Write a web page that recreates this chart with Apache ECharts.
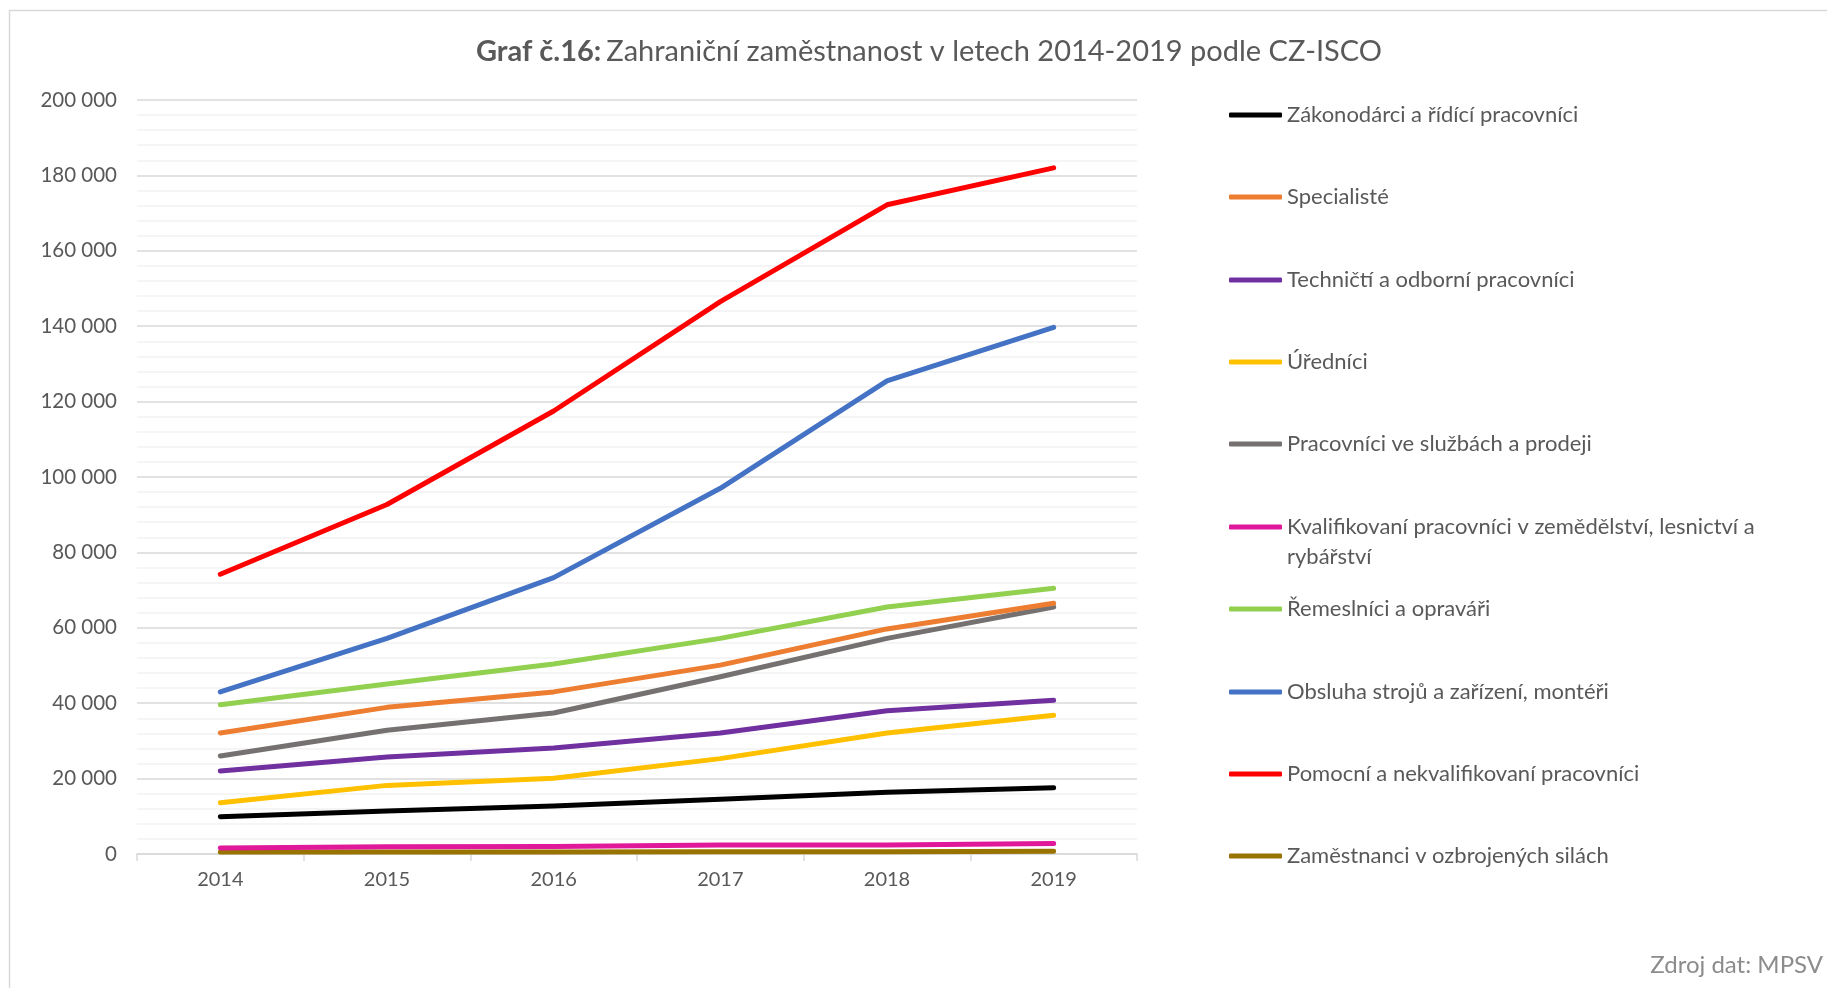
<!DOCTYPE html>
<html>
<head>
<meta charset="utf-8">
<script src="https://cdn.jsdelivr.net/npm/echarts@6/dist/echarts.min.js"></script>
<style>
  html, body { margin: 0; padding: 0; background: #fff; }
  #chart { width: 1827px; height: 988px; }
</style>
</head>
<body>
<div id="chart"></div>
<script>
var years = ['2014', '2015', '2016', '2017', '2018', '2019']
var seriesNames = [
  'Zákonodárci a řídící pracovníci',
  'Specialisté',
  'Techničtí a odborní pracovníci',
  'Úředníci',
  'Pracovníci ve službách a prodeji',
  'Kvalifikovaní pracovníci v zemědělství, lesnictví a rybářství',
  'Řemeslníci a opraváři',
  'Obsluha strojů a zařízení, montéři',
  'Pomocní a nekvalifikovaní pracovníci',
  'Zaměstnanci v ozbrojených silách'
]
var zakonodarci = [9900, 11400, 12700, 14500, 16400, 17600]
var specialiste = [32100, 38900, 43000, 50100, 59700, 66500]
var technicti = [22000, 25700, 28100, 32100, 38000, 40800]
var urednici = [13600, 18200, 20100, 25300, 32100, 36800]
var sluzby = [26000, 32800, 37400, 47000, 57200, 65500]
var zemedelstvi = [1600, 1900, 2000, 2400, 2400, 2800]
var remeslnici = [39600, 45100, 50400, 57200, 65500, 70500]
var obsluha = [43000, 57200, 73300, 97000, 125500, 139700]
var pomocni = [74200, 92700, 117500, 146500, 172200, 182000]
var ozbrojene = [500, 500, 500, 600, 600, 700]
var yTicks = [0, 20000, 40000, 60000, 80000, 100000, 120000, 140000, 160000, 180000, 200000]

var allData = [zakonodarci, specialiste, technicti, urednici, sluzby, zemedelstvi, remeslnici, obsluha, pomocni, ozbrojene]
var colors = ['#000000', '#ED7D31', '#7030A0', '#FFC000', '#767171', '#E0189A', '#92D050', '#4472C4', '#FF0000', '#997300']
// legend rows (y of the line icon)
var legendY = [115, 197, 280, 362, 444, 527, 609, 692, 774, 856]

var font = 'Lato, "Open Sans", sans-serif'

var series = []
var legends = []
for (var i = 0; i < seriesNames.length; i++) {
  series.push({
    name: seriesNames[i],
    type: 'line',
    data: allData[i],
    symbol: 'none',
    lineStyle: { color: colors[i], width: 5, cap: 'round', join: 'round' },
    itemStyle: { color: colors[i] },
    z: 10 - i
  })
  var wrapped = i === 5
  legends.push({
    data: [{ name: seriesNames[i], icon: 'roundRect' }],
    left: 1229,
    top: wrapped ? legendY[i] - 45 : legendY[i] - 15,
    padding: 0,
    itemWidth: 53,
    itemHeight: 5,
    selectedMode: false,
    itemStyle: { color: colors[i] },
    textStyle: { color: '#595959', fontSize: 22, fontFamily: font, lineHeight: 30 },
    formatter: function (name) {
      if (name.indexOf('Kvalifikovaní') === 0) {
        return '\nKvalifikovaní pracovníci v zemědělství, lesnictví a\nrybářství'
      }
      return name
    }
  })
}

var chart = echarts.init(document.getElementById('chart'))
chart.setOption({
  animation: false,
  backgroundColor: '#fff',
  title: {
    text: '{b|Graf č.16:} {n|Zahraniční zaměstnanost v letech 2014-2019 podle CZ-ISCO}',
    left: 924,
    textAlign: 'center',
    top: 32,
    textStyle: {
      rich: {
        b: { fontWeight: 'bold', fontSize: 29, color: '#595959', fontFamily: font },
        n: { fontWeight: 'normal', fontSize: 29, color: '#595959', fontFamily: font }
      }
    }
  },
  graphic: [
    {
      type: 'rect',
      shape: { x: 9.5, y: 10.5, width: 1840, height: 1000 },
      style: { fill: 'none', stroke: '#d9d9d9', lineWidth: 1.5 },
      silent: true
    },
    {
      type: 'text',
      right: 4,
      top: 953,
      style: { text: 'Zdroj dat: MPSV', fill: '#8c8c8c', fontSize: 24, fontFamily: font }
    }
  ],
  legend: legends,
  grid: { left: 137, right: 690, top: 100, bottom: 134 },
  xAxis: {
    type: 'category',
    data: years,
    boundaryGap: true,
    axisLine: { lineStyle: { color: '#d9d9d9', width: 1.5 } },
    axisTick: { show: true, length: 7, lineStyle: { color: '#d9d9d9', width: 1.5 } },
    axisLabel: { color: '#595959', fontSize: 20, fontFamily: font, margin: 16 }
  },
  yAxis: {
    type: 'value',
    min: yTicks[0],
    max: yTicks[yTicks.length - 1],
    interval: 20000,
    axisLine: { show: false },
    axisTick: { show: false },
    axisLabel: {
      color: '#595959',
      fontSize: 20.5,
      fontFamily: font,
      margin: 20,
      formatter: function (v) {
        return String(v).replace(/\B(?=(\d{3})+(?!\d))/g, ' ')
      }
    },
    splitLine: { lineStyle: { color: '#d9d9d9', width: 1.5 } },
    minorTick: { show: false, splitNumber: 5 },
    minorSplitLine: { show: true, lineStyle: { color: '#f2f2f2', width: 1.5 } }
  },
  series: series
})
</script>
</body>
</html>
